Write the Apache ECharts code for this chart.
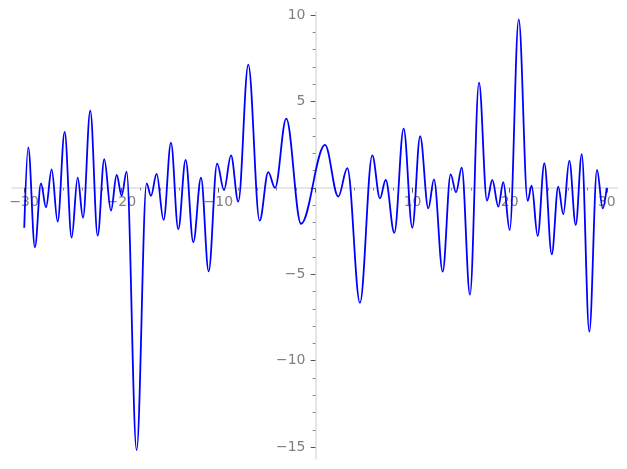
<!DOCTYPE html>
<html>
<head>
<meta charset="utf-8">
<script src="https://cdn.jsdelivr.net/npm/echarts@6/dist/echarts.min.js"></script>
<style>html,body{margin:0;padding:0;background:#fff}#c{width:627px;height:469px}</style>
</head>
<body>
<div id="c"></div>
<script>
// Curve sample points (extrema)
const X_VALUES = [-29.99,-29.58,-28.89,-28.27,-27.75,-27.17,-26.55,-25.83,-25.11,-24.49,-23.94,-23.19,-22.43,-21.75,-21.06,-20.47,-19.96,-19.45,-18.42,-17.39,-16.94,-16.36,-15.64,-14.88,-14.13,-13.37,-12.58,-11.79,-11.0,-10.13,-9.42,-8.70,-7.95,-6.92,-5.75,-4.86,-4.17,-3.01,-1.49,0.98,2.35,3.28,4.58,5.85,6.64,7.23,8.12,9.08,9.97,10.78,11.62,12.20,13.10,13.92,14.47,15.06,15.91,16.84,17.66,18.21,18.83,19.34,20.0,20.93,21.85,22.26,22.88,23.57,24.33,25.0,25.52,26.14,26.80,27.42,28.20,28.99,29.58,29.99];
const Y_VALUES = [-2.31,2.34,-3.44,0.26,-1.13,1.07,-1.96,3.23,-2.88,0.59,-1.73,4.46,-2.77,1.65,-1.32,0.74,-0.46,0.93,-15.17,0.26,-0.47,0.80,-1.86,2.61,-2.40,1.61,-3.15,0.58,-4.83,1.40,-0.13,1.88,-0.80,7.12,-1.90,0.91,-0.01,4.0,-2.08,2.48,-0.51,1.13,-6.65,1.88,-0.61,0.45,-2.60,3.42,-2.31,2.98,-1.19,0.49,-4.85,0.78,-0.26,1.16,-6.18,6.08,-0.74,0.45,-1.09,0.32,-2.44,9.74,-0.76,0.12,-2.79,1.42,-3.85,0.06,-1.53,1.57,-2.15,1.95,-8.32,1.03,-1.19,0.0];

const X_LABELS = [-30,-20,-10,10,20,30];
const X_MAJOR_TICKS = [-30,-20,-10,0,10,20,30];
const X_MINOR_TICKS = [-28,-26,-24,-22,-18,-16,-14,-12,-8,-6,-4,-2,2,4,6,8,12,14,16,18,22,24,26,28];
const Y_LABELS = [-15,-10,-5,5,10];
const Y_MAJOR_TICKS = [-15,-10,-5,0,5,10];
const Y_MINOR_TICKS = [-14,-13,-12,-11,-9,-8,-7,-6,-4,-3,-2,-1,1,2,3,4,6,7,8,9];

const X_RANGE = [-31.2, 31.05];
const Y_RANGE = [-15.65, 10.15];

const GRID = { left: 12.5, right: 10, top: 12.3, bottom: 10.6 };
const W = 627, H = 469;
const gridW = W - GRID.left - GRID.right, gridH = H - GRID.top - GRID.bottom;
// distance of the zero lines from the grid's bottom / left edges
const zeroFromBottom = gridH * (0 - Y_RANGE[0]) / (Y_RANGE[1] - Y_RANGE[0]);
const zeroFromLeft = gridW * (0 - X_RANGE[0]) / (X_RANGE[1] - X_RANGE[0]);

const data = X_VALUES.map((x, i) => [x, Y_VALUES[i]]);
const fmt = v => String(v).replace('-', '\u2212');
const labelStyle = { fontFamily: 'DejaVu Sans', fontSize: 14, color: '#7f7f7f' };
const noLabel = { show: false };

function baseX(extra) {
  return Object.assign({ type: 'value', min: X_RANGE[0], max: X_RANGE[1], splitLine: { show: false } }, extra);
}
function baseY(extra) {
  return Object.assign({ type: 'value', min: Y_RANGE[0], max: Y_RANGE[1], splitLine: { show: false } }, extra);
}

const chart = echarts.init(document.getElementById('c'), null, { renderer: 'canvas' });
chart.setOption({
  animation: false,
  backgroundColor: '#ffffff',
  grid: Object.assign({ containLabel: false, outerBoundsMode: 'none' }, GRID),
  xAxis: [
    baseX({
      axisLine: { show: true, onZero: true, onZeroAxisIndex: 0, lineStyle: { color: '#e6e6e6', width: 2 } },
      axisTick: { show: true, customValues: X_MAJOR_TICKS, length: 4.8, lineStyle: { color: '#555', width: 1 } },
      axisLabel: noLabel
    }),
    baseX({
      position: 'bottom',
      axisLine: { show: true, onZero: true, onZeroAxisIndex: 0, lineStyle: { color: '#e6e6e6', width: 2 } },
      axisTick: { show: true, customValues: X_MINOR_TICKS, length: 2.8, lineStyle: { color: '#666', width: 0.8 } },
      axisLabel: noLabel
    }),
    baseX({
      position: 'bottom',
      offset: -zeroFromBottom,
      axisLine: { show: false, onZero: false },
      axisTick: { show: false },
      axisLabel: Object.assign({ show: true, customValues: X_LABELS, formatter: fmt, margin: 8 }, labelStyle)
    })
  ],
  yAxis: [
    baseY({
      axisLine: { show: true, onZero: true, onZeroAxisIndex: 0, lineStyle: { color: '#e6e6e6', width: 2 } },
      axisTick: { show: true, customValues: Y_MAJOR_TICKS, length: 4.8, lineStyle: { color: '#555', width: 1 } },
      axisLabel: noLabel
    }),
    baseY({
      position: 'left',
      axisLine: { show: true, onZero: true, onZeroAxisIndex: 0, lineStyle: { color: '#e6e6e6', width: 2 } },
      axisTick: { show: true, customValues: Y_MINOR_TICKS, length: 2.8, lineStyle: { color: '#666', width: 0.8 } },
      axisLabel: noLabel
    }),
    baseY({
      position: 'left',
      offset: -zeroFromLeft,
      axisLine: { show: false, onZero: false },
      axisTick: { show: false },
      axisLabel: Object.assign({ show: true, customValues: Y_LABELS, formatter: fmt, margin: 10 }, labelStyle)
    })
  ],
  series: [{
    type: 'line',
    data: data,
    xAxisIndex: 0, yAxisIndex: 0,
    showSymbol: false,
    smooth: 0.36,
    smoothMonotone: 'x',
    lineStyle: { color: '#0000ff', width: 1.8 },
    z: 5
  }]
});
</script>
</body>
</html>
